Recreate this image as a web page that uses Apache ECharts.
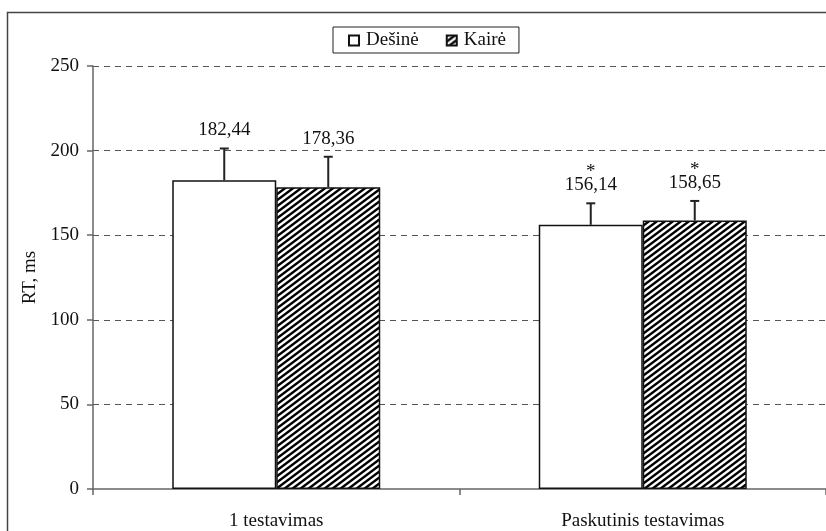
<!DOCTYPE html>
<html>
<head>
<meta charset="utf-8">
<script src="https://cdn.jsdelivr.net/npm/echarts@6/dist/echarts.min.js"></script>
<style>
  html, body { margin: 0; padding: 0; background: #fff; overflow: hidden; }
  #chart { width: 826px; height: 531px; }
</style>
</head>
<body>
<div id="chart"></div>
<script>
// Reaction time per hand, first vs. last test session
const categories = ['1 testavimas', 'Paskutinis testavimas'];
const seriesNames = ['Dešinė', 'Kairė'];
const rightValues = [182.44, 156.14];
const leftValues = [178.36, 158.65];
const rightErrors = [18.8, 12.7];
const leftErrors = [18.0, 11.6];
const significance = ['', '*'];
const yTicks = [0, 50, 100, 150, 200, 250];

const FONT = '"Liberation Serif", "Times New Roman", serif';
const BAR_W = 104;

// Diagonal hatch tile for the left-hand bars
function hatchPattern() {
  const w = 8, h = 6;
  const c = document.createElement('canvas');
  c.width = w; c.height = h;
  const ctx = c.getContext('2d');
  ctx.fillStyle = '#fff';
  ctx.fillRect(0, 0, w, h);
  ctx.strokeStyle = '#000';
  ctx.lineWidth = 2.4;
  for (let k = -1; k <= 2; k++) {
    ctx.beginPath();
    ctx.moveTo(w * k + 2 * w, -h);
    ctx.lineTo(w * k - w, 2 * h);
    ctx.stroke();
  }
  return { image: c, repeat: 'repeat' };
}
const hatch = hatchPattern();

const fmt = v => v.toFixed(2).replace('.', ',');

// Error whisker + value label + significance mark above each bar
function errorSeries(values, errors, offset, marks) {
  return {
    type: 'custom',
    name: 'err' + offset,
    silent: true,
    z: 5,
    data: values.map((v, i) => [i, v, errors[i]]),
    renderItem: function (params, api) {
      const i = api.value(0);
      const v = api.value(1);
      const e = api.value(2);
      const mark = marks[i];
      const base = api.coord([i, v]);
      const top = api.coord([i, v + e]);
      const x = base[0] + offset;
      const children = [
        { type: 'line', shape: { x1: x, y1: base[1], x2: x, y2: top[1] },
          style: { stroke: '#222', lineWidth: 2 } },
        { type: 'line', shape: { x1: x - 4.5, y1: top[1], x2: x + 4.5, y2: top[1] },
          style: { stroke: '#222', lineWidth: 2 } },
        { type: 'text', x: x, y: top[1] - 18,
          style: { text: fmt(v), font: '19px ' + FONT, fill: '#111',
                   align: 'center', verticalAlign: 'middle' } }
      ];
      if (mark) {
        children.push({ type: 'text', x: x, y: top[1] - 31,
          style: { text: mark, font: '19px ' + FONT, fill: '#111',
                   align: 'center', verticalAlign: 'middle' } });
      }
      return { type: 'group', children: children };
    }
  };
}

const chart = echarts.init(document.getElementById('chart'), null, { renderer: 'canvas' });
chart.setOption({
  animation: false,
  backgroundColor: '#fff',
  graphic: [{
    // outer frame: left and top edges (right/bottom fall outside the canvas)
    type: 'polyline',
    shape: { points: [[7.5, 600], [7.5, 12.5], [900, 12.5]] },
    style: { fill: 'none', stroke: '#444', lineWidth: 1.5 },
    silent: true, z: -10
  }],
  legend: {
    data: seriesNames,
    top: 27,
    left: 333,
    icon: 'rect',
    itemWidth: 10,
    itemHeight: 10,
    itemGap: 27,
    padding: [4, 13, 3, 15],
    borderColor: '#222',
    borderWidth: 1,
    textStyle: { fontFamily: FONT, fontSize: 19, color: '#111', padding: [0, 0, 0, 2] }
  },
  grid: { left: 93, right: -3, top: 66, bottom: 42 },
  xAxis: {
    type: 'category',
    data: categories,
    axisLine: { lineStyle: { color: '#666', width: 1.5 } },
    axisTick: { show: true, length: 6, lineStyle: { color: '#666', width: 1.5 } },
    axisLabel: { fontFamily: FONT, fontSize: 19, color: '#111', margin: 23 },
    splitLine: { show: false }
  },
  yAxis: {
    type: 'value',
    min: yTicks[0],
    max: yTicks[yTicks.length - 1],
    interval: 50,
    name: 'RT, ms',
    nameLocation: 'middle',
    nameGap: 45,
    nameTextStyle: { fontFamily: FONT, fontSize: 19, color: '#111' },
    axisLine: { show: true, lineStyle: { color: '#666', width: 1.5 } },
    axisTick: { show: true, length: 6, lineStyle: { color: '#666', width: 1.5 } },
    axisLabel: { fontFamily: FONT, fontSize: 19, color: '#111', margin: 14 },
    splitLine: {
      show: true,
      showMinLine: false,
      lineStyle: { color: '#555', type: [6, 5], width: 1 }
    }
  },
  series: [
    {
      name: seriesNames[0],
      type: 'bar',
      data: rightValues,
      barWidth: BAR_W,
      barGap: '0%',
      itemStyle: { color: '#fff', borderColor: '#111', borderWidth: 1.5 }
    },
    {
      name: seriesNames[1],
      type: 'bar',
      data: leftValues,
      barWidth: BAR_W,
      barGap: '0%',
      itemStyle: { color: hatch, borderColor: '#111', borderWidth: 1.5 }
    },
    errorSeries(rightValues, rightErrors, -BAR_W / 2, significance),
    errorSeries(leftValues, leftErrors, BAR_W / 2, significance)
  ]
});
</script>
</body>
</html>
